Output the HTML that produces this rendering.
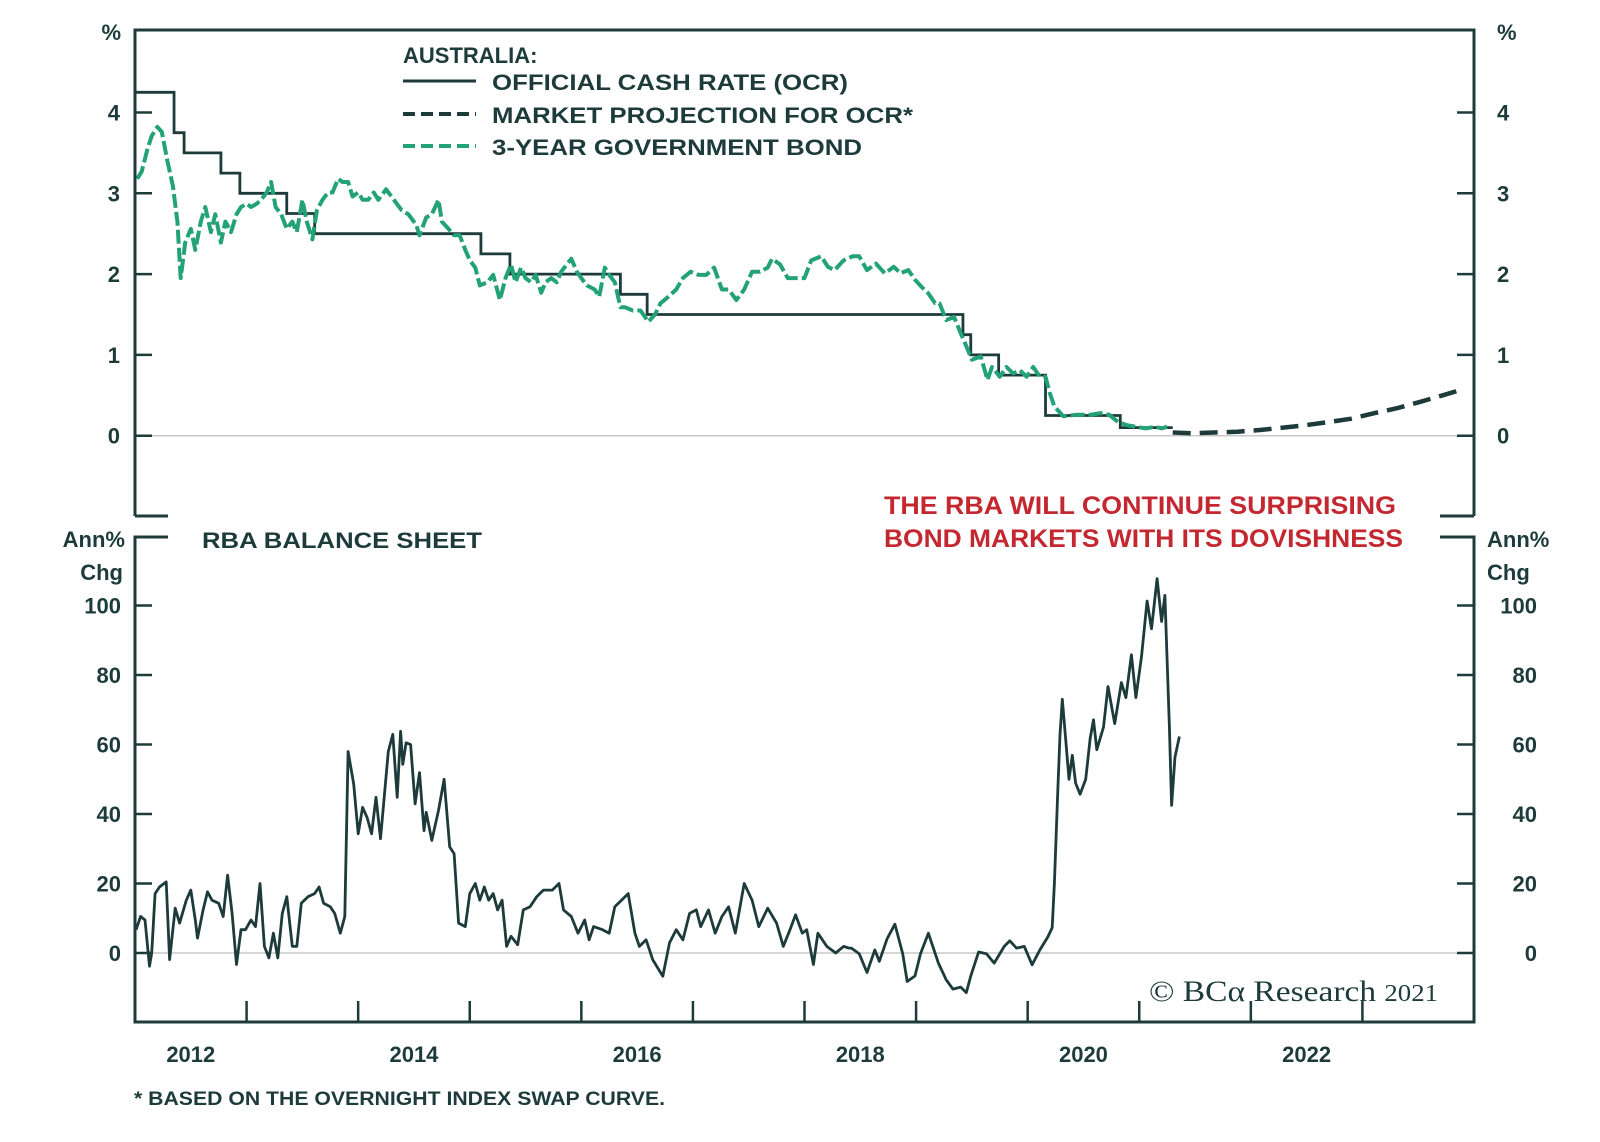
<!DOCTYPE html>
<html><head><meta charset="utf-8"><style>
html,body{margin:0;padding:0;background:#fff}
svg{display:block}
text{font-family:"Liberation Sans",sans-serif;fill:#1c3b3a;font-weight:bold}
</style></head><body>
<svg id="chart" width="1600" height="1142" viewBox="0 0 1600 1142" xmlns="http://www.w3.org/2000/svg">
<g id="grid"></g>
<g id="series"></g>
<g id="frame"></g>
<g id="labels"></g>
<g>
 <text x="403" y="63" font-size="22">AUSTRALIA:</text>
 <line x1="403" y1="81" x2="476" y2="81" stroke="#1c3b3a" stroke-width="3"/>
 <text x="492" y="90" font-size="22" textLength="356" lengthAdjust="spacingAndGlyphs">OFFICIAL CASH RATE (OCR)</text>
 <line x1="403" y1="114" x2="476" y2="114" stroke="#1c3b3a" stroke-width="4" stroke-dasharray="12 6"/>
 <text x="492" y="123" font-size="22" textLength="421" lengthAdjust="spacingAndGlyphs">MARKET PROJECTION FOR OCR*</text>
 <line x1="403" y1="146" x2="476" y2="146" stroke="#23a277" stroke-width="4" stroke-dasharray="12 6"/>
 <text x="492" y="155" font-size="22" textLength="370" lengthAdjust="spacingAndGlyphs">3-YEAR GOVERNMENT BOND</text>
</g>
<text x="202" y="548" font-size="22" textLength="280" lengthAdjust="spacingAndGlyphs">RBA BALANCE SHEET</text>
<text x="884" y="514" font-size="25" textLength="512" lengthAdjust="spacingAndGlyphs" style="fill:#c3272f">THE RBA WILL CONTINUE SURPRISING</text>
<text x="884" y="547" font-size="25" textLength="519" lengthAdjust="spacingAndGlyphs" style="fill:#c3272f">BOND MARKETS WITH ITS DOVISHNESS</text>
<text x="1149" y="1001" font-size="30" textLength="289" lengthAdjust="spacingAndGlyphs" style="font-family:'Liberation Serif',serif;font-weight:normal">© BCα Research <tspan font-size="24">2021</tspan></text>
<text x="134" y="1105" font-size="19" textLength="531" lengthAdjust="spacingAndGlyphs">* BASED ON THE OVERNIGHT INDEX SWAP CURVE.</text>
</svg>
<script>
const NS="http://www.w3.org/2000/svg";
const yearTicks=[2013,2014,2015,2016,2017,2018,2019,2020,2021,2022,2023];
const yearLabels=[2012,2014,2016,2018,2020,2022];
const topTicks=[0,1,2,3,4];
const bottomTicks=[0,20,40,60,80,100];
const ocrSteps=[[2012.0,4.25],[2012.35,3.75],[2012.44,3.5],[2012.77,3.25],[2012.94,3.0],[2013.36,2.75],[2013.61,2.5],[2015.1,2.25],[2015.36,2.0],[2016.35,1.75],[2016.59,1.5],[2019.42,1.25],[2019.49,1.0],[2019.74,0.75],[2020.16,0.25],[2020.83,0.1],[2021.30,0.1]];
const projYears=[2021.30,2021.47,2021.67,2021.88,2022.08,2022.29,2022.49,2022.70,2022.90,2023.11,2023.31,2023.52,2023.72,2023.89];
const projValues=[0.04,0.03,0.04,0.05,0.07,0.10,0.13,0.17,0.21,0.28,0.34,0.42,0.50,0.57];
const bondYears=[2012.02,2012.06,2012.11,2012.15,2012.20,2012.24,2012.29,2012.34,2012.38,2012.41,2012.45,2012.50,2012.54,2012.59,2012.63,2012.68,2012.72,2012.77,2012.81,2012.86,2012.91,2012.95,2013.00,2013.04,2013.09,2013.13,2013.18,2013.22,2013.26,2013.31,2013.36,2013.41,2013.45,2013.50,2013.54,2013.59,2013.63,2013.68,2013.73,2013.77,2013.82,2013.86,2013.91,2013.95,2014.00,2014.04,2014.09,2014.14,2014.18,2014.25,2014.32,2014.39,2014.45,2014.52,2014.55,2014.61,2014.66,2014.72,2014.75,2014.81,2014.86,2014.91,2014.96,2015.00,2015.05,2015.09,2015.16,2015.21,2015.27,2015.32,2015.37,2015.41,2015.46,2015.50,2015.55,2015.59,2015.64,2015.68,2015.73,2015.78,2015.82,2015.87,2015.91,2015.96,2016.00,2016.05,2016.12,2016.16,2016.21,2016.25,2016.30,2016.35,2016.39,2016.46,2016.53,2016.60,2016.66,2016.71,2016.78,2016.85,2016.91,2016.98,2017.05,2017.12,2017.19,2017.26,2017.32,2017.39,2017.46,2017.53,2017.60,2017.67,2017.71,2017.78,2017.85,2017.95,2018.00,2018.06,2018.15,2018.21,2018.27,2018.35,2018.43,2018.49,2018.56,2018.64,2018.72,2018.80,2018.86,2018.93,2018.99,2019.05,2019.11,2019.17,2019.21,2019.27,2019.34,2019.40,2019.44,2019.50,2019.58,2019.64,2019.68,2019.75,2019.81,2019.87,2019.93,2019.99,2020.05,2020.11,2020.16,2020.20,2020.24,2020.32,2020.44,2020.57,2020.65,2020.73,2020.81,2020.89,2020.97,2021.06,2021.14,2021.20,2021.25];
const bondValues=[3.18,3.27,3.54,3.71,3.82,3.76,3.40,3.09,2.65,1.95,2.39,2.56,2.30,2.65,2.83,2.52,2.74,2.39,2.65,2.52,2.74,2.83,2.87,2.83,2.87,2.92,3.01,3.14,2.83,2.74,2.56,2.65,2.52,2.92,2.65,2.43,2.79,2.92,3.01,3.01,3.18,3.14,3.14,2.96,3.01,2.92,2.92,3.01,2.92,3.05,2.92,2.79,2.74,2.61,2.48,2.70,2.74,2.92,2.65,2.56,2.48,2.48,2.30,2.17,2.08,1.86,1.90,1.99,1.68,1.95,2.12,1.90,2.08,1.95,1.90,1.99,1.77,1.90,1.95,1.90,2.03,2.12,2.19,2.03,1.95,1.86,1.81,1.72,2.08,1.99,1.90,1.59,1.59,1.55,1.55,1.41,1.50,1.64,1.72,1.81,1.95,2.03,1.99,1.99,2.08,1.81,1.81,1.68,1.81,2.03,2.03,2.08,2.19,2.12,1.95,1.95,1.95,2.17,2.22,2.09,2.05,2.17,2.22,2.22,2.05,2.13,2.01,2.09,2.01,2.05,1.93,1.84,1.76,1.64,1.64,1.43,1.47,1.27,1.14,0.94,0.98,0.69,0.85,0.73,0.85,0.77,0.81,0.73,0.85,0.73,0.73,0.52,0.36,0.24,0.26,0.26,0.28,0.26,0.17,0.13,0.11,0.09,0.11,0.09,0.11,0.30];
const bsYears=[2012.01,2012.05,2012.09,2012.13,2012.15,2012.18,2012.22,2012.28,2012.31,2012.36,2012.40,2012.46,2012.50,2012.54,2012.56,2012.61,2012.65,2012.69,2012.75,2012.79,2012.83,2012.87,2012.91,2012.95,2012.99,2013.04,2013.08,2013.12,2013.16,2013.20,2013.24,2013.28,2013.32,2013.36,2013.41,2013.45,2013.49,2013.55,2013.61,2013.65,2013.69,2013.75,2013.79,2013.84,2013.88,2013.91,2013.96,2014.00,2014.04,2014.08,2014.12,2014.16,2014.20,2014.27,2014.31,2014.35,2014.38,2014.40,2014.43,2014.47,2014.51,2014.55,2014.59,2014.61,2014.66,2014.72,2014.77,2014.82,2014.86,2014.90,2014.96,2015.00,2015.05,2015.09,2015.13,2015.17,2015.21,2015.25,2015.29,2015.33,2015.37,2015.43,2015.48,2015.54,2015.60,2015.66,2015.74,2015.80,2015.84,2015.91,2015.97,2016.03,2016.07,2016.11,2016.19,2016.25,2016.30,2016.36,2016.42,2016.48,2016.52,2016.58,2016.64,2016.73,2016.79,2016.85,2016.91,2016.97,2017.03,2017.07,2017.14,2017.20,2017.26,2017.32,2017.38,2017.46,2017.53,2017.59,2017.67,2017.75,2017.81,2017.87,2017.92,2017.98,2018.02,2018.08,2018.12,2018.20,2018.28,2018.35,2018.40,2018.42,2018.49,2018.56,2018.63,2018.67,2018.74,2018.81,2018.88,2018.92,2018.99,2019.04,2019.11,2019.15,2019.20,2019.27,2019.33,2019.40,2019.45,2019.49,2019.56,2019.63,2019.70,2019.79,2019.84,2019.90,2019.97,2020.04,2020.11,2020.18,2020.22,2020.24,2020.27,2020.29,2020.31,2020.34,2020.37,2020.40,2020.43,2020.47,2020.52,2020.56,2020.59,2020.62,2020.68,2020.72,2020.78,2020.84,2020.88,2020.93,2020.97,2021.02,2021.07,2021.11,2021.16,2021.20,2021.23,2021.27,2021.29,2021.32,2021.36];
const bsValues=[6.7,10.5,9.5,-3.8,0,17.1,19,20.5,-1.9,12.9,8.6,15.2,18.1,9.5,4.3,12.4,17.6,15.2,14.3,10.5,22.4,11.4,-3.3,6.7,6.7,9.5,7.6,20,1.9,-1.4,5.7,-1.4,11.4,16.2,1.9,1.9,14.3,16.2,17.1,19,14.3,13.3,11.4,5.7,10.5,58,48.6,34.3,41.9,39,34.3,44.8,32.9,58,62.9,44.8,63.8,54.3,60.5,60,42.9,51.9,35.2,40.5,32.4,41,50,30.5,28.6,8.6,7.6,17.1,20,15.2,19,15.2,17.1,12.4,15.2,1.9,4.8,2.4,12.4,13.3,16.2,18.1,18.1,20,12.4,10.5,5.7,9.5,3.8,7.6,6.7,5.7,13.3,15.2,17.1,5.7,1.9,3.8,-1.9,-6.7,2.9,6.7,3.8,11.4,12.4,7.6,12.4,5.7,10.5,13.3,5.7,20,15.2,7.6,12.9,8.6,1.9,6.7,11,5.7,6.7,-3.3,5.7,1.9,0,1.9,1.4,1.4,-0.2,-5.6,0.9,-2.4,4.1,8.3,-0.2,-8.2,-6.6,-0.2,5.7,1.9,-2.9,-7.7,-10.4,-9.8,-11.4,-6.6,0.3,-0.2,-2.9,1.9,3.5,1.4,1.9,-3.4,0.9,4.6,7.3,20.1,46.8,62.8,73,61.8,50,56.9,48.9,45.7,50,61.8,67.1,58.5,65,76.7,66,77.8,73.5,85.8,73.5,85.3,101.3,93.3,107.7,95.4,102.9,65,42.5,56.4,62.3];

const X0=135,X1=1474,T0=2012,T1=2024;
const xs=t=>X0+(t-T0)*(X1-X0)/(T1-T0);
const yTop=v=>435.7-v*80.8;
const yBot=v=>953-v*3.475;
const DARK="#1c3b3a";
function mk(tag,attrs,parent){const e=document.createElementNS(NS,tag);for(const k in attrs)e.setAttribute(k,attrs[k]);(parent||document.getElementById('series')).appendChild(e);return e;}
const grid=document.getElementById('grid'),frame=document.getElementById('frame'),labels=document.getElementById('labels');

let g=mk('line',{x1:X0,x2:X1,y1:yTop(0),y2:yTop(0),stroke:'#c8c8c8','stroke-width':1.5},grid);


g=mk('line',{x1:X0,x2:X1,y1:yBot(0),y2:yBot(0),stroke:'#c8c8c8','stroke-width':1.5},grid);



let d='';ocrSteps.forEach((s,i)=>{const x=xs(s[0]),y=yTop(s[1]);if(i===0)d+=`M${x},${y}`;else d+=`H${x}V${y}`;});
const ocr=mk('path',{d:d,fill:'none',stroke:DARK,'stroke-width':2.8});



const bond=mk('path',{d:bondYears.map((t,i)=>(i?'L':'M')+xs(t).toFixed(1)+','+yTop(bondValues[i]).toFixed(1)).join(''),fill:'none',stroke:'#23a277','stroke-width':4,'stroke-dasharray':'14 4','stroke-linejoin':'round'});



const proj=mk('path',{d:projYears.map((t,i)=>(i?'L':'M')+xs(t).toFixed(1)+','+yTop(projValues[i]).toFixed(1)).join(''),fill:'none',stroke:DARK,'stroke-width':4.5,'stroke-dasharray':'18 9'});



const bs=mk('path',{d:bsYears.map((t,i)=>(i?'L':'M')+xs(t).toFixed(1)+','+yBot(bsValues[i]).toFixed(1)).join(''),fill:'none',stroke:DARK,'stroke-width':2.8,'stroke-linejoin':'round'});



const fp=`M${X0},516V30H${X1}V516M${X0},516H168M${X1},516H1440M168,537H${X0}V1022H${X1}V537H1440`;
const fr=mk('path',{d:fp,fill:'none',stroke:DARK,'stroke-width':3},frame);



yearTicks.forEach(t=>{const l=mk('line',{x1:xs(t),x2:xs(t),y1:1022,y2:1001,stroke:DARK,'stroke-width':2.5},frame);

});
yearLabels.forEach(t=>{const e=mk('text',{x:xs(t+0.5),y:1062,'text-anchor':'middle','font-size':22},labels);e.textContent=t;

});
topTicks.forEach(v=>{const y=yTop(v);
 [[X0,X0+17],[X1-17,X1]].forEach(p=>{const l=mk('line',{x1:p[0],x2:p[1],y1:y,y2:y,stroke:DARK,'stroke-width':2.5},frame);
 
 });
 let e=mk('text',{x:120,y:y+8,'text-anchor':'end','font-size':22},labels);e.textContent=v;
 
 
 e=mk('text',{x:1497,y:y+8,'font-size':22},labels);e.textContent=v;
 
 });
bottomTicks.forEach(v=>{const y=yBot(v);
 [[X0,X0+17],[X1-17,X1]].forEach(p=>{const l=mk('line',{x1:p[0],x2:p[1],y1:y,y2:y,stroke:DARK,'stroke-width':2.5},frame);
 
 });
 let e=mk('text',{x:121,y:y+8,'text-anchor':'end','font-size':22},labels);e.textContent=v;
 
 
 e=mk('text',{x:1537,y:y+8,'text-anchor':'end','font-size':22},labels);e.textContent=v;
 
 });
[['%',121,40,'end'],['%',1497,40,'start'],['Ann%',125,547,'end'],['Chg',123,580,'end'],['Ann%',1487,547,'start'],['Chg',1487,580,'start']].forEach(a=>{
 const e=mk('text',{x:a[1],y:a[2],'text-anchor':a[3],'font-size':22},labels);e.textContent=a[0];
 
 });
</script>
</body></html>
